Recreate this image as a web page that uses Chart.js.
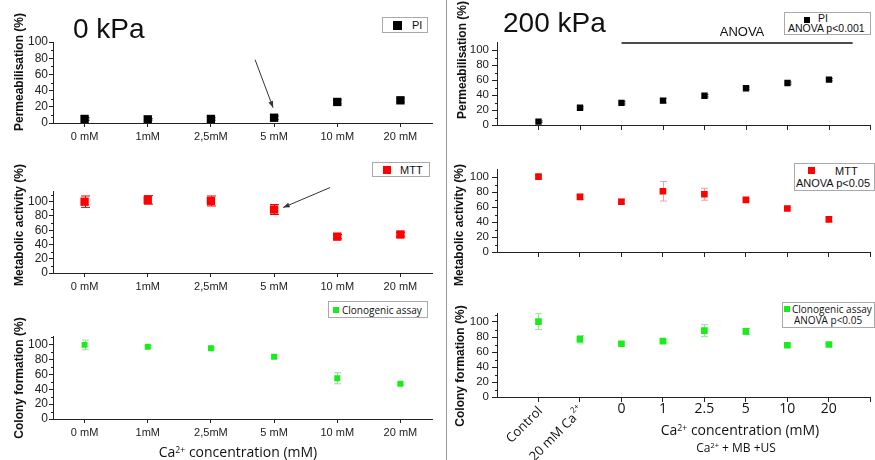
<!DOCTYPE html>
<html>
<head>
<meta charset="utf-8">
<script src="https://cdn.jsdelivr.net/npm/chart.js"></script>
<style>
  body { margin: 0; background: #fff; }
  #fig { position: relative; width: 875px; height: 460px; overflow: hidden; font-family: "Liberation Sans", Arial, sans-serif; color: #111; }
  canvas { position: absolute; }
  .t { position: absolute; white-space: nowrap; z-index: 2; line-height: 1.2; }
  .c { transform: translate(-50%, -50%); }
  .ytitle { position: absolute; z-index: 2; font-weight: bold; font-size: 12px; white-space: nowrap; transform: translate(-50%, -50%) rotate(-90deg); }
  .leg { position: absolute; z-index: 2; border: 1px solid #aaa; background: #fff; font-size: 11px; box-sizing: border-box; }
  .leg span { position: absolute; white-space: nowrap; line-height: 12px; }
  .sq { position: absolute; }
  sup { font-size: 0.62em; vertical-align: baseline; position: relative; top: -0.5em; }
  .os { font-family: "Open Sans", "Liberation Sans", sans-serif; }
</style>
</head>
<body>
<div id="fig">
  <canvas id="l1" width="440" height="150" style="left:0;top:0"></canvas>
  <canvas id="l2" width="440" height="150" style="left:0;top:150px"></canvas>
  <canvas id="l3" width="440" height="150" style="left:0;top:300px"></canvas>
  <canvas id="r1" width="427" height="145" style="left:448px;top:0"></canvas>
  <canvas id="r2" width="427" height="145" style="left:448px;top:145px"></canvas>
  <canvas id="r3" width="427" height="170" style="left:448px;top:290px"></canvas>

  <div style="position:absolute;left:446px;top:0;width:1px;height:460px;background:#999"></div>

  <div class="t" style="left:73px;top:9px;font-size:28px;line-height:40px">0 kPa</div>
  <div class="t" style="left:503px;top:3px;font-size:28px;line-height:40px">200 kPa</div>

  <div class="ytitle" style="left:19px;top:72px">Permeabilisation (%)</div>
  <div class="ytitle" style="left:19px;top:225px">Metabolic activity (%)</div>
  <div class="ytitle" style="left:19px;top:378px">Colony formation (%)</div>
  <div class="ytitle" style="left:462px;top:60px">Permeabilisation (%)</div>
  <div class="ytitle" style="left:459px;top:225px">Metabolic activity (%)</div>
  <div class="ytitle" style="left:460px;top:366px">Colony formation (%)</div>

  <div class="leg" style="left:382px;top:17px;width:46px;height:16px">
    <div class="sq" style="left:10px;top:3px;width:9px;height:9px;background:#000"></div>
    <span style="left:29px;top:1px">PI</span>
  </div>
  <div class="leg" style="left:372px;top:162px;width:58px;height:15px">
    <div class="sq" style="left:10px;top:3px;width:8px;height:8px;background:#f00"></div>
    <span style="left:27px;top:1px">MTT</span>
  </div>
  <div class="leg os" style="left:328px;top:301px;width:100px;height:17px;font-size:10px">
    <div class="sq" style="left:4px;top:5px;width:6px;height:6px;background:#1aeb1a"></div>
    <span style="left:13px;top:2px">Clonogenic assay</span>
  </div>

  <div class="leg" style="left:784px;top:12px;width:87px;height:23px;font-size:10.5px">
    <div class="sq" style="left:19px;top:4px;width:6px;height:6px;background:#000"></div>
    <span style="left:33px;top:0px;line-height:11px">PI</span>
    <span style="left:3px;top:10px;line-height:11px">ANOVA p&lt;0.001</span>
  </div>
  <div class="leg" style="left:794px;top:163px;width:81px;height:28px;font-size:11px">
    <div class="sq" style="left:13px;top:3px;width:7px;height:7px;background:#f00"></div>
    <span style="left:40px;top:1px">MTT</span>
    <span style="left:1px;top:13px">ANOVA p&lt;0.05</span>
  </div>
  <div class="leg os" style="left:782px;top:302px;width:93px;height:26px;font-size:10px">
    <div class="sq" style="left:1px;top:3px;width:6px;height:6px;background:#1aeb1a"></div>
    <span style="left:9px;top:0px">Clonogenic assay</span>
    <span style="left:11px;top:11px">ANOVA p&lt;0.05</span>
  </div>

  <div class="t c" style="left:742px;top:32px;font-size:13px">ANOVA</div>

  <div class="t c os" style="left:238px;top:452px;font-size:14px">Ca<sup>2+</sup> concentration (mM)</div>
  <div class="t c os" style="left:740px;top:430px;font-size:14px">Ca<sup>2+</sup> concentration (mM)</div>
  <div class="t c os" style="left:736px;top:448px;font-size:12px">Ca<sup>2+</sup> + MB +US</div>
</div>

<script>
// 0 kPa panels
const leftCats = ['0 mM', '1mM', '2,5mM', '5 mM', '10 mM', '20 mM'];
const piLeft = [5, 4.5, 5, 6.5, 26, 28];
const piLeftErr = [1.5, 1, 1.5, 2, 2.5, 2.5];
const mttLeft = [100, 102.5, 101, 89, 51, 54];
const mttLeftErr = [8, 6, 7, 7, 3, 3];
const clonoLeft = [100, 97.5, 95.5, 84, 55, 47.5];
const clonoLeftErr = [6.5, 1.5, 1.5, 2, 7.5, 1.5];

// 200 kPa panels
const rightCats = ['Control', '20 mM Ca', '0', '1', '2.5', '5', '10', '20'];
const rightSup = ['', '2+', '', '', '', '', '', ''];
const piRight = [4.5, 23, 29.5, 32.5, 39, 49, 56, 60.5];
const piRightErr = [1, 1.5, 1.5, 3, 1.5, 1.5, 1.5, 1.5];
const mttRight = [100.5, 73.5, 67, 81, 77, 69.5, 58, 43.5];
const mttRightErr = [2, 3.5, 3.5, 13, 8, 2, 1.5, 3];
const clonoRight = [100.5, 77, 71, 74.5, 88.5, 87.5, 69, 70];
const clonoRightErr = [10.5, 5, 2, 2, 8, 4, 2, 2];

const AXIS = '#222';
const GREEN = '#1aeb1a';
Chart.defaults.font.family = '"Liberation Sans", Arial, sans-serif';
Chart.defaults.color = AXIS;

function errorBars(errors, color, cap) {
  return {
    id: 'errorBars',
    beforeDatasetsDraw(chart) {
      const ctx = chart.ctx;
      const y = chart.scales.y;
      const vals = chart.data.datasets[0].data;
      ctx.save();
      ctx.strokeStyle = color;
      ctx.lineWidth = 1;
      chart.getDatasetMeta(0).data.forEach((pt, i) => {
        const v = typeof vals[i] === 'object' ? vals[i].y : vals[i];
        const top = y.getPixelForValue(v + errors[i]);
        const bot = y.getPixelForValue(v - errors[i]);
        const x = Math.round(pt.x) + 0.5;
        ctx.beginPath();
        ctx.moveTo(x, top); ctx.lineTo(x, bot);
        ctx.moveTo(x - cap, top); ctx.lineTo(x + cap, top);
        ctx.moveTo(x - cap, bot); ctx.lineTo(x + cap, bot);
        ctx.stroke();
      });
      ctx.restore();
    }
  };
}

const minorTicks = {
  id: 'minorTicks',
  afterDraw(chart) {
    const {ctx, chartArea, scales: {y}} = chart;
    ctx.save();
    ctx.strokeStyle = AXIS;
    ctx.lineWidth = 1;
    for (let v = 10; v < y.max; v += 20) {
      const py = Math.round(y.getPixelForValue(v)) + 0.5;
      ctx.beginPath();
      ctx.moveTo(chartArea.left - 2, py);
      ctx.lineTo(chartArea.left, py);
      ctx.stroke();
    }
    ctx.restore();
  }
};

// arrow pointing at one marker; offsets are relative to that marker
function arrowTo(index, ex, ey, sx, sy) {
  return {
    id: 'arrowTo',
    afterDatasetsDraw(chart) {
      const ctx = chart.ctx;
      const pt = chart.getDatasetMeta(0).data[index];
      const x1 = pt.x + ex, y1 = pt.y + ey;
      const x0 = x1 + sx, y0 = y1 + sy;
      const a = Math.atan2(y1 - y0, x1 - x0);
      ctx.save();
      ctx.strokeStyle = '#333';
      ctx.fillStyle = '#333';
      ctx.lineWidth = 1;
      ctx.beginPath();
      ctx.moveTo(x0, y0);
      ctx.lineTo(x1, y1);
      ctx.stroke();
      ctx.beginPath();
      ctx.moveTo(x1, y1);
      ctx.lineTo(x1 - 7 * Math.cos(a - 0.35), y1 - 7 * Math.sin(a - 0.35));
      ctx.lineTo(x1 - 7 * Math.cos(a + 0.35), y1 - 7 * Math.sin(a + 0.35));
      ctx.closePath();
      ctx.fill();
      ctx.restore();
    }
  };
}

const anovaLine = {
  id: 'anovaLine',
  afterDraw(chart) {
    const {ctx, chartArea, scales: {x}} = chart;
    ctx.save();
    ctx.strokeStyle = '#111';
    ctx.lineWidth = 1.3;
    ctx.beginPath();
    ctx.moveTo(x.getPixelForValue(3), chartArea.top + 0.5);
    ctx.lineTo(x.getPixelForValue(8.57), chartArea.top + 0.5);
    ctx.stroke();
    ctx.restore();
  }
};

const rightLabels = {
  id: 'rightLabels',
  afterDraw(chart) {
    const {ctx, chartArea, scales: {x}} = chart;
    ctx.save();
    ctx.fillStyle = '#111';
    rightCats.forEach((lab, i) => {
      const px = x.getPixelForValue(i + 1);
      if (i < 2) {
        ctx.save();
        ctx.translate(px + 2, chartArea.bottom + 12);
        ctx.rotate(-Math.PI / 4);
        ctx.textAlign = 'right';
        ctx.textBaseline = 'middle';
        let off = 0;
        if (rightSup[i]) {
          ctx.font = '8px "Open Sans", sans-serif';
          ctx.fillText(rightSup[i], 0, -5);
          off = ctx.measureText(rightSup[i]).width + 1;
        }
        ctx.font = '13px "Open Sans", sans-serif';
        ctx.fillText(lab, -off, 0);
        ctx.restore();
      } else {
        ctx.font = '14px "Open Sans", sans-serif';
        ctx.textAlign = 'center';
        ctx.textBaseline = 'middle';
        ctx.fillText(lab, px, chartArea.bottom + 12);
      }
    });
    ctx.restore();
  }
};

function baseY(ymax, fontSize, tickLen, pad, width) {
  return {
    min: 0, max: ymax,
    grid: { drawOnChartArea: false, tickLength: tickLen, color: AXIS },
    border: { color: AXIS },
    ticks: { stepSize: 20, includeBounds: false, autoSkip: false, padding: pad, font: { size: fontSize }, color: AXIS },
    afterFit: s => { s.width = width; }
  };
}

function leftChart(id, values, errors, color, errColor, radius, cap, ymax, padTop, xh, extra) {
  return new Chart(document.getElementById(id), {
    type: 'line',
    data: {
      labels: leftCats,
      datasets: [{
        data: values, showLine: false, pointStyle: 'rect',
        pointRadius: radius, pointHoverRadius: radius, pointBorderWidth: 0,
        pointBackgroundColor: color, borderColor: color
      }]
    },
    options: {
      responsive: false, animation: false, events: [],
      layout: { padding: { top: padTop, right: 8, left: 0, bottom: 0 } },
      plugins: { legend: { display: false }, tooltip: { enabled: false } },
      scales: {
        x: {
          offset: true,
          grid: { offset: false, drawOnChartArea: false, tickLength: 4, color: AXIS },
          border: { color: AXIS },
          ticks: { font: { size: 11 }, color: AXIS, padding: 3, maxRotation: 0, autoSkip: false },
          afterFit: s => { s.height = xh; }
        },
        y: baseY(ymax, 12, 4, 1, 53)
      }
    },
    plugins: [errorBars(errors, errColor, cap), minorTicks].concat(extra || [])
  });
}

function rightChart(id, values, errors, color, errColor, radius, ymax, padTop, xh, extra) {
  return new Chart(document.getElementById(id), {
    type: 'scatter',
    data: {
      datasets: [{
        data: values.map((v, i) => ({ x: i + 1, y: v })),
        pointStyle: 'rect', pointRadius: radius, pointHoverRadius: radius, pointBorderWidth: 0,
        pointBackgroundColor: color, borderColor: color
      }]
    },
    options: {
      responsive: false, animation: false, events: [],
      layout: { padding: { top: padTop, right: 0, left: 0, bottom: 0 } },
      plugins: { legend: { display: false }, tooltip: { enabled: false } },
      scales: {
        x: {
          type: 'linear', min: 0, max: rightCats.length + 1,
          grid: { drawOnChartArea: false, tickLength: 5, color: AXIS },
          border: { color: AXIS },
          ticks: { callback: () => '' },
          afterBuildTicks: s => { s.ticks = rightCats.map((c, i) => ({ value: i + 1 })).concat([{ value: rightCats.length + 1 }]); },
          afterFit: s => { s.height = xh; }
        },
        y: baseY(ymax, 11.5, 5, 3, 49)
      }
    },
    plugins: [errorBars(errors, errColor, 3.5), minorTicks].concat(extra || [])
  });
}

leftChart('l1', piLeft, piLeftErr, '#000', '#000', 5.9, 4, 100, 42, 27, [arrowTo(3, -1, -10, -18, -48)]);
leftChart('l2', mttLeft, mttLeftErr, '#f00', '#e00', 5.9, 4.5, 115, 41, 27, [arrowTo(3, 9, -2, 47, -20)]);
leftChart('l3', clonoLeft, clonoLeftErr, GREEN, '#8ee88e', 4.2, 3.5, 112, 36, 31);

rightChart('r1', piRight, piRightErr, '#000', '#888', 4.5, 110, 42.5, 20, [anovaLine]);
rightChart('r2', mttRight, mttRightErr, '#f00', '#f4a0a0', 4.7, 110, 24.5, 38);
rightChart('r3', clonoRight, clonoRightErr, GREEN, '#8ee88e', 4.7, 112, 23, 63, [rightLabels]);
</script>
</body>
</html>
